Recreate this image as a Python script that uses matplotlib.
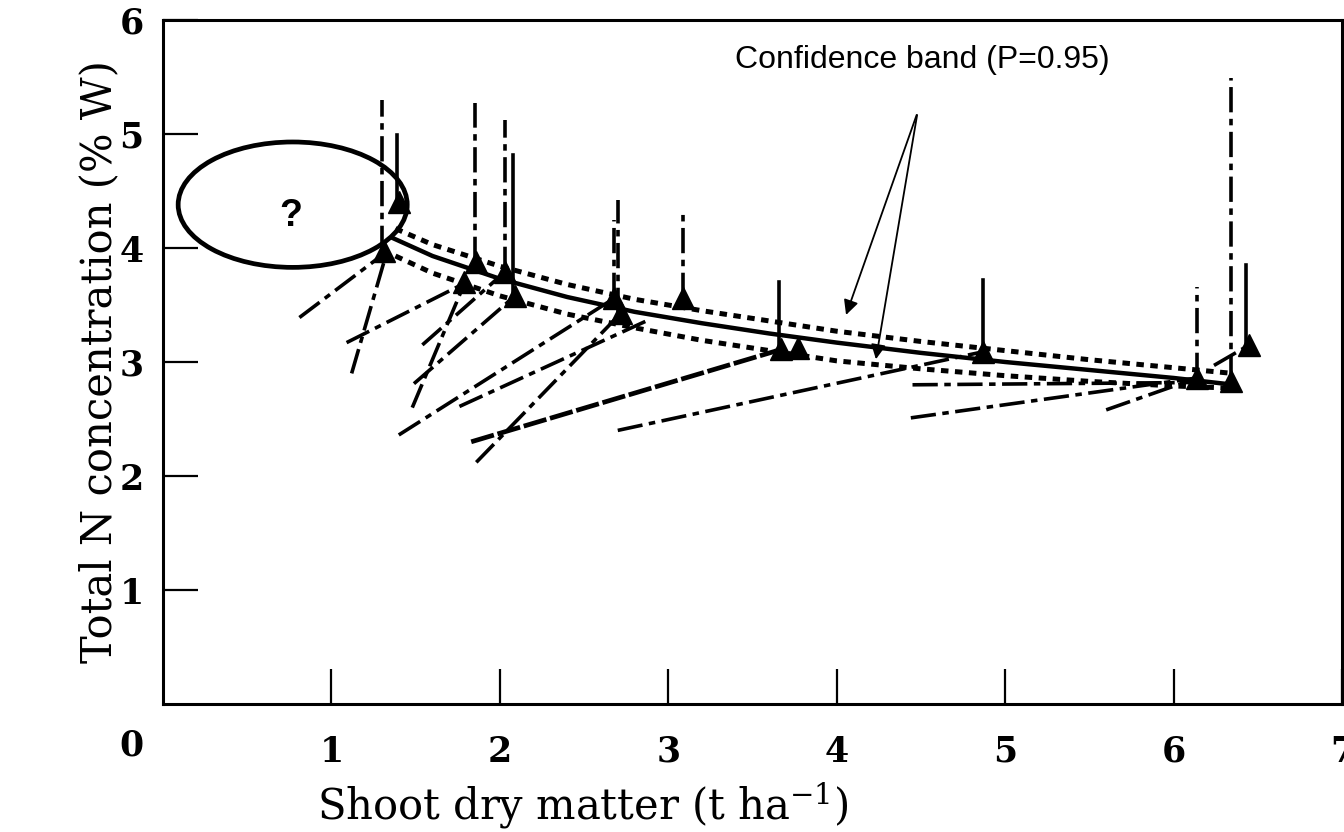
import matplotlib
matplotlib.use("Agg")
import matplotlib.pyplot as plt
from matplotlib.patches import Ellipse

# ── Data ─────────────────────────────────────────────────────────────────────
# critical points (triangles)
tri_x = [1.31, 1.40, 1.79, 1.86, 2.03, 2.09, 2.68, 2.72, 3.09, 3.67, 3.77, 4.87, 6.14, 6.34, 6.45]
tri_y = [3.97, 4.40, 3.70, 3.88, 3.79, 3.58, 3.56, 3.43, 3.56, 3.11, 3.12, 3.09, 2.86, 2.83, 3.15]

# critical N dilution curve
curve_x = [1.36, 1.6, 2.0, 2.4, 2.8, 3.2, 3.6, 4.0, 4.5, 5.0, 5.5, 6.0, 6.3]
curve_y = [4.09, 3.93, 3.73, 3.57, 3.44, 3.34, 3.25, 3.17, 3.08, 3.00, 2.93, 2.86, 2.81]

# confidence band
band_x = [1.38, 1.6, 2.0, 2.4, 2.8, 3.2, 3.6, 4.0, 4.5, 5.0, 5.5, 6.0, 6.35]
band_hi = [4.17, 4.03, 3.84, 3.68, 3.55, 3.45, 3.36, 3.27, 3.18, 3.10, 3.02, 2.95, 2.90]
band_lo = [3.93, 3.78, 3.58, 3.42, 3.30, 3.19, 3.10, 3.01, 2.94, 2.88, 2.83, 2.79, 2.77]

# vertical lines above critical points
vert_x = [1.30, 1.39, 1.85, 2.03, 2.08, 2.68, 2.70, 3.09, 3.66, 4.87, 6.14, 6.34, 6.43]
vert_lo = [3.97, 4.40, 3.88, 3.79, 3.58, 3.56, 3.43, 3.56, 3.11, 3.09, 2.86, 2.83, 3.15]
vert_hi = [5.30, 4.99, 5.27, 5.12, 4.82, 4.25, 4.42, 4.33, 3.70, 3.72, 3.66, 5.49, 3.85]

# sloping lines leading up to critical points
seg_x0 = [0.81, 1.12, 1.09, 1.48, 1.54, 1.49, 1.40, 1.76, 1.86, 1.83, 2.70, 4.44, 5.60, 4.45, 6.24]
seg_y0 = [3.39, 2.90, 3.17, 2.60, 3.15, 2.81, 2.36, 2.61, 2.12, 2.30, 2.40, 2.51, 2.58, 2.80, 2.97]
seg_x1 = [1.33, 1.33, 1.79, 1.79, 2.03, 2.09, 2.68, 2.87, 2.72, 3.67, 4.87, 6.14, 6.14, 6.11, 6.45]
seg_y1 = [3.97, 3.97, 3.69, 3.69, 3.79, 3.58, 3.56, 3.36, 3.43, 3.11, 3.09, 2.86, 2.86, 2.82, 3.15]

xticks = [1, 2, 3, 4, 5, 6, 7]
yticks = [1, 2, 3, 4, 5, 6]

# ── Figure ───────────────────────────────────────────────────────────────────
plt.rcParams["mathtext.fontset"] = "dejavuserif"
fig = plt.figure(figsize=(13.44, 8.32), dpi=100)
ax = fig.add_axes([163 / 1344, 128 / 832, 1179 / 1344, 684 / 832])
ax.set_xlim(0, 7)
ax.set_ylim(0, 6)

dashdot = (0, (7, 1.8, 1.8, 1.8))
for i, (x0, y0, x1, y1) in enumerate(zip(seg_x0, seg_y0, seg_x1, seg_y1)):
    if i == 9:   # the heavy one
        ax.plot([x0, x1], [y0, y1], color="black", lw=3.4, ls=(0, (5, 0.8)))
    else:
        ax.plot([x0, x1], [y0, y1], color="black", lw=2.6, ls=dashdot)

solid_vert = {1, 4, 8, 9, 12}
for i, (x, lo, hi) in enumerate(zip(vert_x, vert_lo, vert_hi)):
    ls = "-" if i in solid_vert else dashdot
    ax.plot([x, x], [lo, hi], color="black", lw=2.6, ls=ls)

ax.plot(curve_x, curve_y, color="black", lw=3.2)
ax.plot(band_x, band_hi, color="black", lw=3.6, ls=(0, (1.5, 1.3)))
ax.plot(band_x, band_lo, color="black", lw=3.6, ls=(0, (1.5, 1.3)))

ax.plot(tri_x, tri_y, ls="none", marker="^", ms=16, color="black")

# ── Annotations ──────────────────────────────────────────────────────────────
ax.text(5.62, 5.58, "Confidence band (P=0.95)", ha="right", va="baseline",
        fontsize=23, family="Liberation Sans")
for tx, ty in [(4.05, 3.39), (4.23, 3.0)]:
    ax.annotate("", xy=(tx, ty), xytext=(4.48, 5.19),
                arrowprops=dict(arrowstyle="-|>", color="black", lw=1.3,
                                mutation_scale=22))

ax.add_patch(Ellipse((0.77, 4.38), 1.36, 1.10, fill=False, lw=3.4,
                     edgecolor="black", zorder=5))
ax.text(0.76, 4.28, "?", ha="center", va="center", fontsize=27,
        fontweight="bold", family="Liberation Sans")

# ── Axes styling ─────────────────────────────────────────────────────────────
for sp in ax.spines.values():
    sp.set_linewidth(2.2)

ax.set_xticks(xticks)
ax.set_yticks(yticks)
ax.tick_params(direction="in", length=25, width=1.6)
ax.tick_params(axis="x", pad=22)
ax.tick_params(axis="y", pad=14)
for lab in ax.get_xticklabels() + ax.get_yticklabels():
    lab.set_fontsize(25)
    lab.set_fontweight("bold")
    lab.set_family("DejaVu Serif")
ax.text(-0.19, -0.36, "0", ha="center", va="center", fontsize=25,
        fontweight="bold", family="DejaVu Serif", clip_on=False)

ax.set_xlabel("Shoot dry matter (t ha$^{-1}$)", fontsize=30, family="DejaVu Serif")
ax.xaxis.set_label_coords(0.356, -0.112)
ax.set_ylabel("Total N concentration (% W)", fontsize=30, family="DejaVu Serif")
ax.yaxis.set_label_coords(-0.036, 0.5)

fig.savefig("out.png", dpi=100)
